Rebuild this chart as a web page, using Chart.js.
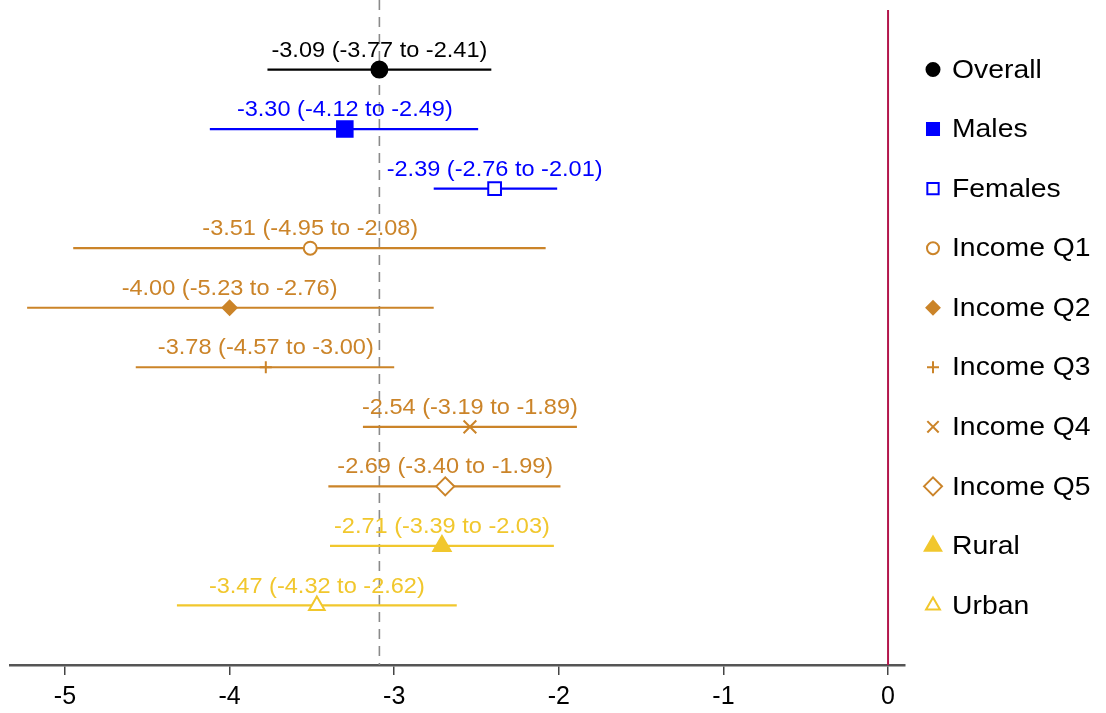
<!DOCTYPE html>
<html>
<head>
<meta charset="utf-8">
<script src="https://cdn.jsdelivr.net/npm/chart.js@4"></script>
<style>
html,body{margin:0;padding:0;background:#fff;}
#wrap{width:1106px;height:713px;position:relative;}
</style>
</head>
<body>
<div id="wrap"><canvas id="c" width="1106" height="713"></canvas></div>
<script>
const groups = ['Overall','Males','Females','Income Q1','Income Q2','Income Q3','Income Q4','Income Q5','Rural','Urban'];
const estimates = [-3.09,-3.30,-2.39,-3.51,-4.00,-3.78,-2.54,-2.69,-2.71,-3.47];
const lower = [-3.77,-4.12,-2.76,-4.95,-5.23,-4.57,-3.19,-3.40,-3.39,-4.32];
const upper = [-2.41,-2.49,-2.01,-2.08,-2.76,-3.00,-1.89,-1.99,-2.03,-2.62];
const tickValues = [-5,-4,-3,-2,-1,0];
const overallRef = -3.09;

const colors = ['#000000','#0000ff','#0000ff','#cb8429','#cb8429','#cb8429','#cb8429','#cb8429','#f1c72d','#f1c72d'];
const styles = ['circle','rect','rect','circle','rectRot','cross','crossRot','rectRot','triangle','triangle'];
const filled = [true,true,false,false,true,false,false,false,true,false];
const sizes = [8,11,9,6.5,7,6,9,9,10,9];
const legSizes = [6.5,8.5,8,6,6.5,6,8,9,9.5,8];

const datasets = [];
groups.forEach((g,i)=>{
  const row = i+1;
  datasets.push({
    type:'line', label:g+' CI',
    data:[{x:lower[i],y:row},{x:upper[i],y:row}],
    borderColor:colors[i], borderWidth:2.2, pointRadius:0, pointHoverRadius:0, fill:false, order:2
  });
  datasets.push({
    type:'scatter', label:g,
    data:[{x:estimates[i],y:row}],
    pointStyle:styles[i], pointRadius:sizes[i], pointHoverRadius:sizes[i],
    backgroundColor: filled[i] ? colors[i] : '#ffffff',
    borderColor:colors[i], pointBorderWidth:2, borderWidth:2, order:1
  });
});

function fmt(v){return v.toFixed(2);}

function stretchText(ctx, txt, x, y, sx){
  ctx.save();
  ctx.translate(x,y);
  ctx.scale(sx,1);
  ctx.fillText(txt,0,0);
  ctx.restore();
}

const overlay = {
  id:'overlay',
  beforeDatasetsDraw(chart){
    const {ctx, chartArea, scales:{x}} = chart;
    ctx.save();
    const xr = x.getPixelForValue(overallRef);
    ctx.strokeStyle='#8a8a8a'; ctx.lineWidth=1.6; ctx.setLineDash([10,7]);
    ctx.beginPath(); ctx.moveTo(xr,0); ctx.lineTo(xr,chartArea.bottom); ctx.stroke();
    ctx.setLineDash([]);
    const x0 = x.getPixelForValue(0);
    ctx.strokeStyle='#b3174c'; ctx.lineWidth=2;
    ctx.beginPath(); ctx.moveTo(x0,chartArea.top); ctx.lineTo(x0,chartArea.bottom); ctx.stroke();
    ctx.restore();
  },
  afterDatasetsDraw(chart){
    const {ctx, scales:{x,y}} = chart;
    ctx.save();
    ctx.font='22px "Liberation Sans", Arial, sans-serif';
    ctx.textAlign='center'; ctx.textBaseline='middle';
    groups.forEach((g,i)=>{
      const px = x.getPixelForValue(estimates[i]);
      const py = y.getPixelForValue(i+1);
      ctx.fillStyle = colors[i];
      stretchText(ctx, fmt(estimates[i])+' ('+fmt(lower[i])+' to '+fmt(upper[i])+')', px, py-19, 1.07);
    });
    ctx.font='26px "Liberation Sans", Arial, sans-serif';
    ctx.textAlign='left';
    groups.forEach((g,i)=>{
      const py = y.getPixelForValue(i+1);
      const mx = 933;
      const opts = {pointStyle:styles[i], radius:legSizes[i], borderWidth:2, rotation:0};
      ctx.fillStyle = filled[i] ? colors[i] : '#ffffff';
      ctx.strokeStyle = colors[i];
      ctx.lineWidth = 2;
      Chart.helpers.drawPoint(ctx, opts, mx, py);
      ctx.fillStyle='#000';
      stretchText(ctx, g, 952, py+1, 1.09);
    });
    ctx.restore();
  }
};

new Chart(document.getElementById('c'), {
  data:{datasets},
  options:{
    responsive:false, animation:false,
    layout:{autoPadding:false, padding:{left:10,right:201,top:10,bottom:0}},
    plugins:{legend:{display:false}, tooltip:{enabled:false}},
    scales:{
      x:{
        type:'linear', min:-5.334, max:0.103,
        afterBuildTicks(scale){ scale.ticks = tickValues.map(v=>({value:v})); },
        afterFit(scale){ scale.height = 48; },
        ticks:{color:'#000', font:{size:25, lineHeight:1, family:'"Liberation Sans", Arial, sans-serif'}, padding:10,
          callback:(v)=>String(v)},
        grid:{drawOnChartArea:false, drawTicks:true, tickLength:10, color:'#444', lineWidth:1.5},
        border:{display:true, color:'#555', width:2.5}
      },
      y:{
        type:'linear', min:0, max:11, reverse:true, display:false
      }
    }
  },
  plugins:[overlay]
});
</script>
</body>
</html>
